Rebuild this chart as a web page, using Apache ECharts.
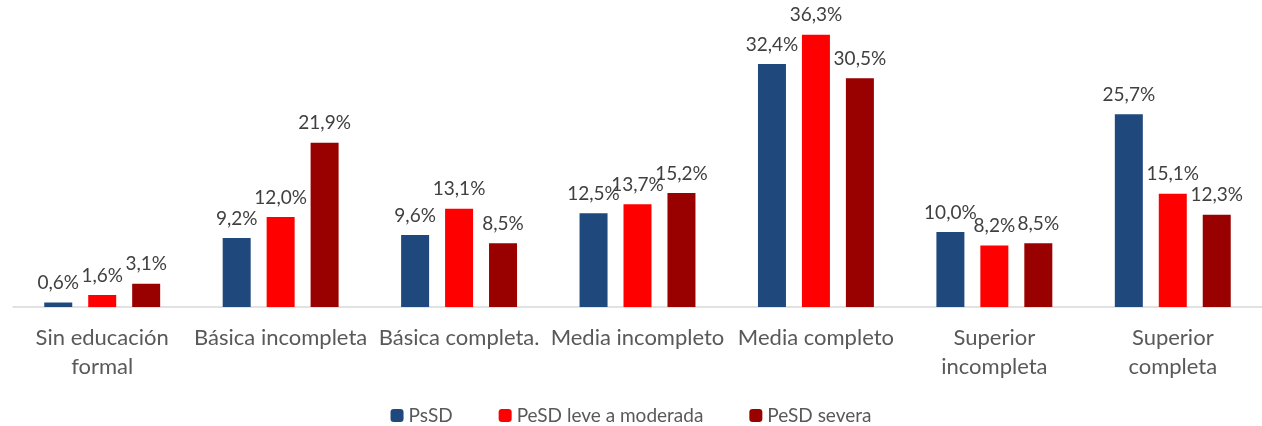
<!DOCTYPE html>
<html>
<head>
<meta charset="utf-8">
<script src="https://cdn.jsdelivr.net/npm/echarts@6/dist/echarts.min.js"></script>
<style>
  html, body { margin: 0; padding: 0; background: #fff; }
  #chart { width: 1262px; height: 426px; }
</style>
</head>
<body>
<div id="chart"></div>
<script>
  var categories = ['Sin educación\nformal', 'Básica incompleta', 'Básica completa.', 'Media incompleto', 'Media completo', 'Superior\nincompleta', 'Superior\ncompleta'];
  var psSD = [0.6, 9.2, 9.6, 12.5, 32.4, 10.0, 25.7];
  var pesdLeve = [1.6, 12.0, 13.1, 13.7, 36.3, 8.2, 15.1];
  var pesdSevera = [3.1, 21.9, 8.5, 15.2, 30.5, 8.5, 12.3];

  var font = 'Lato, "Open Sans", sans-serif';
  function pct(p) { return p.value.toFixed(1).replace('.', ',') + '%'; }
  function barSeries(name, data, color) {
    return {
      name: name,
      type: 'bar',
      data: data,
      barWidth: 28,
      barGap: '57%',
      itemStyle: { color: color },
      label: {
        show: true,
        position: 'top',
        distance: 10,
        color: '#404040',
        fontSize: 19,
        fontFamily: font,
        formatter: pct
      }
    };
  }

  var myChart = echarts.init(document.getElementById('chart'));
  myChart.setOption({
    animation: false,
    textStyle: { fontFamily: font },
    legend: {
      top: 401,
      left: 'center',
      itemWidth: 13,
      itemHeight: 13,
      itemGap: 46,
      textStyle: { fontSize: 19, color: '#595959', fontFamily: font },
      data: ['PsSD', 'PeSD leve a moderada', 'PeSD severa']
    },
    grid: { left: 13, right: 0, top: 7, bottom: 119, containLabel: false },
    xAxis: {
      type: 'category',
      data: categories,
      axisLine: { lineStyle: { color: '#d9d9d9', width: 1.5 } },
      axisTick: { show: false },
      axisLabel: {
        interval: 0,
        color: '#595959',
        fontSize: 22,
        fontFamily: font,
        margin: 16,
        lineHeight: 29
      }
    },
    yAxis: {
      type: 'value',
      min: 0,
      max: 40,
      show: false,
      splitLine: { show: false }
    },
    series: [
      barSeries('PsSD', psSD, '#1f497d'),
      barSeries('PeSD leve a moderada', pesdLeve, '#ff0000'),
      barSeries('PeSD severa', pesdSevera, '#990000')
    ]
  });
</script>
</body>
</html>
